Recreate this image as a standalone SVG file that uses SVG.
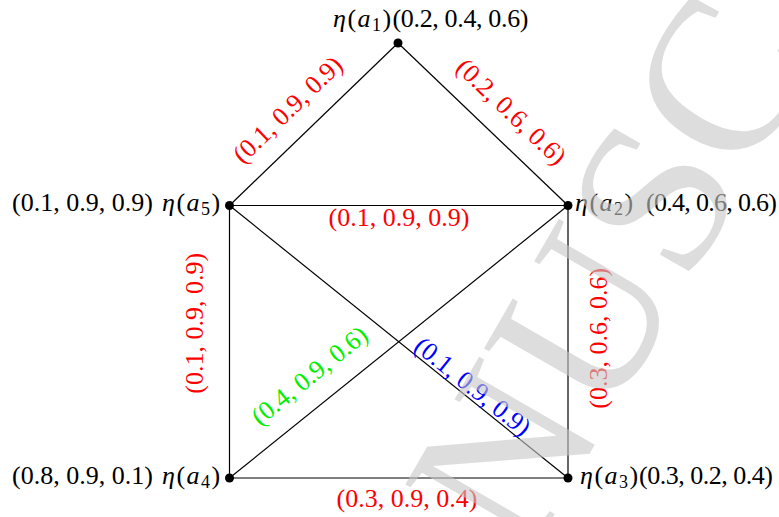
<svg xmlns="http://www.w3.org/2000/svg" width="779" height="517" viewBox="0 0 779 517">
<style>
text{font-family:"Liberation Serif","Times New Roman",serif;font-size:26px;fill:#000}
.it{font-style:italic}
.eta{letter-spacing:1.5px}
.sub{font-size:18px}
.red{fill:#ff0000}
.grn{fill:#00f000}
.blu{fill:#0000ff}
.e{stroke:#000;stroke-width:1.2;fill:none}
.dot{fill:#000}
.wm{font-family:"Liberation Serif",serif;font-size:220px;fill:#c8c8c8;opacity:0.6}
</style>
<rect width="779" height="517" fill="#fff"/>
<g id="edges">
<line class="e" x1="398" y1="43" x2="229.5" y2="205.5"/>
<line class="e" x1="398" y1="43" x2="568" y2="205.5"/>
<line class="e" x1="229.5" y1="205.5" x2="568" y2="205.5"/>
<line class="e" x1="229.5" y1="205.5" x2="229.5" y2="478"/>
<line class="e" x1="568" y1="205.5" x2="568" y2="478"/>
<line class="e" x1="229.5" y1="478" x2="568" y2="478"/>
<line class="e" x1="229.5" y1="205.5" x2="568" y2="478"/>
<line class="e" x1="229.5" y1="478" x2="568" y2="205.5"/>
<text class="red" text-anchor="middle" transform="translate(307.5,130.3) rotate(-43.96)" y="-20">(0.1, 0.9, 0.9)</text>
<text class="red" text-anchor="middle" transform="translate(491.6,132.4) rotate(43.7)" y="-20">(0.2, 0.6, 0.6)</text>
<text class="red" text-anchor="middle" x="399" y="226">(0.1, 0.9, 0.9)</text>
<text class="red" text-anchor="middle" transform="translate(202.5,323.3) rotate(-90)">(0.1, 0.9, 0.9)</text>
<text class="red" text-anchor="middle" transform="translate(606.5,338.3) rotate(-90)">(0.3, 0.6, 0.6)</text>
<text class="red" text-anchor="middle" x="407" y="506.5">(0.3, 0.9, 0.4)</text>
<text class="grn" text-anchor="middle" transform="translate(328,398.7) rotate(-38.83)" y="-21">(0.4, 0.9, 0.6)</text>
<text class="blu" text-anchor="middle" transform="translate(465.5,395.4) rotate(38.83)" y="-3">(0.1, 0.9, 0.9)</text>
</g>
<g id="a1">
<circle class="dot" cx="398" cy="43" r="4.5"/>
<text class="eta" x="333" y="26.5"><tspan class="it">η</tspan>(<tspan class="it">a</tspan><tspan class="sub" dy="4">1</tspan><tspan dy="-4">)</tspan></text>
<text x="392.5" y="26.5" textLength="136" lengthAdjust="spacing">(0.2, 0.4, 0.6)</text>
</g>
<g id="a2">
<circle class="dot" cx="568" cy="205.5" r="4.5"/>
<text class="eta" x="575" y="211"><tspan class="it">η</tspan>(<tspan class="it">a</tspan><tspan class="sub" dy="4">2</tspan><tspan dy="-4">)</tspan></text>
<text x="646" y="211" textLength="131" lengthAdjust="spacing">(0.4, 0.6, 0.6)</text>
</g>
<g id="a3">
<circle class="dot" cx="568" cy="478" r="4.5"/>
<text class="eta" x="580" y="483.5"><tspan class="it">η</tspan>(<tspan class="it">a</tspan><tspan class="sub" dy="4">3</tspan><tspan dy="-4">)</tspan></text>
<text x="639" y="483.5" textLength="134" lengthAdjust="spacing">(0.3, 0.2, 0.4)</text>
</g>
<g id="a4">
<circle class="dot" cx="229.5" cy="478" r="4.5"/>
<text x="12" y="483.5">(0.8, 0.9, 0.1)</text>
<text class="eta" x="162" y="483.5"><tspan class="it">η</tspan>(<tspan class="it">a</tspan><tspan class="sub" dy="4">4</tspan><tspan dy="-4">)</tspan></text>
</g>
<g id="a5">
<circle class="dot" cx="229.5" cy="205.5" r="4.5"/>
<text x="12" y="211">(0.1, 0.9, 0.9)</text>
<text class="eta" x="162" y="211"><tspan class="it">η</tspan>(<tspan class="it">a</tspan><tspan class="sub" dy="4">5</tspan><tspan dy="-4">)</tspan></text>
</g>
<text class="wm" transform="translate(527,562) rotate(-60)">NUSC</text>
</svg>
